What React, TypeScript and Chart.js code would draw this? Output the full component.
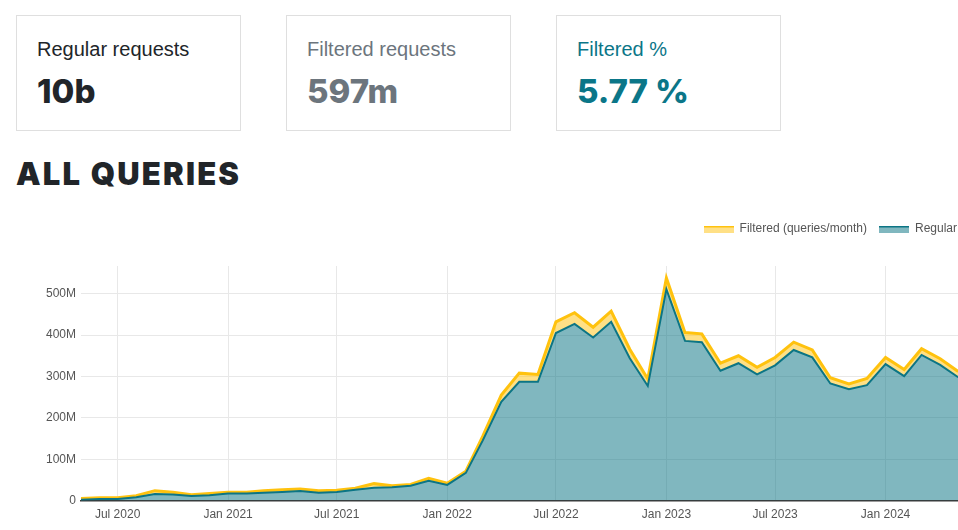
import React, { useEffect, useRef } from "react";
import { Chart, registerables } from "chart.js";

Chart.register(...registerables);

// ---- data (values in millions of queries per month) ----
const MONTHS = [
  "2020-05", "2020-06", "2020-07", "2020-08", "2020-09", "2020-10", "2020-11", "2020-12",
  "2021-01", "2021-02", "2021-03", "2021-04", "2021-05", "2021-06", "2021-07", "2021-08", "2021-09", "2021-10", "2021-11", "2021-12",
  "2022-01", "2022-02", "2022-03", "2022-04", "2022-05", "2022-06", "2022-07", "2022-08", "2022-09", "2022-10", "2022-11", "2022-12",
  "2023-01", "2023-02", "2023-03", "2023-04", "2023-05", "2023-06", "2023-07", "2023-08", "2023-09", "2023-10", "2023-11", "2023-12",
  "2024-01", "2024-02", "2024-03", "2024-04", "2024-05",
];
const REGULAR_M = [
  2, 4, 4, 8, 16, 15, 11, 13,
  17, 17, 19, 21, 23, 19, 21, 26, 31, 32, 36, 48,
  38, 67, 145, 239, 287, 287, 405, 427, 394, 432, 344, 277,
  511, 386, 383, 314, 332, 305, 327, 364, 346, 283, 269, 279,
  330, 301, 352, 328, 298,
];
const FILTERED_M = [
  3, 3, 3, 4, 8, 5, 3, 4,
  3, 3, 5, 5, 5, 5, 4, 4, 10, 4, 3, 6,
  4, 4, 10, 16, 21, 18, 27, 27, 25, 26, 22, 17,
  27, 20, 20, 18, 18, 17, 19, 19, 18, 14, 13, 16,
  16, 16, 15, 15, 14,
];
const SERIES_LABELS = ["Regular", "Filtered (queries/month)"];
const TICK_MONTHS = ["2020-07", "2021-01", "2021-07", "2022-01", "2022-07", "2023-01", "2023-07", "2024-01"];
const TICK_LABELS = ["Jul 2020", "Jan 2021", "Jul 2021", "Jan 2022", "Jul 2022", "Jan 2023", "Jul 2023", "Jan 2024"];
const Y_TICKS_M = [0, 100, 200, 300, 400, 500];
const X_MIN = "2020-05-01";
const X_MAX = "2024-05-19";
const Y_MAX_M = 567;

const CARD_LABELS = ["Regular requests", "Filtered requests", "Filtered %"];
const CARD_VALUES = ["10b", "597m", "5.77 %"];
const CARD_COLORS = ["#212529", "#6c757d", "#0b7688"];
const TITLE = "ALL QUERIES";

const TEAL = "#0c7585";
const TEAL_FILL = "rgba(12,117,133,0.52)";
const AMBER = "#ffc20e";
const AMBER_FILL = "rgba(255,194,14,0.5)";

const toMs = (s: string) => {
  const [y, m, d] = s.split("-").map(Number);
  return Date.UTC(y, m - 1, d || 1);
};

Chart.defaults.font.family = "'Liberation Sans', Arial, sans-serif";
Chart.defaults.font.size = 12;
Chart.defaults.color = "#555";

export default function App() {
  const ref = useRef<HTMLCanvasElement>(null);

  useEffect(() => {
    const canvas = ref.current;
    if (!canvas) return;

    const makeSwatch = (line: string, fill: string) => {
      const c = document.createElement("canvas");
      c.width = 30;
      c.height = 7;
      const g = c.getContext("2d")!;
      g.fillStyle = fill;
      g.fillRect(0, 0, 30, 7);
      g.fillStyle = line;
      g.fillRect(0, 0, 30, 2);
      return c;
    };
    const swatches = [makeSwatch(TEAL, TEAL_FILL), makeSwatch(AMBER, AMBER_FILL)];

    const legendSpacer = {
      id: "legendSpacer",
      beforeInit(chart: any) {
        const lg = chart.legend;
        if (!lg) return;
        const fit = lg.fit;
        lg.fit = function () {
          fit.call(lg);
          lg.height += 21;
        };
      },
    };

    const chart = new Chart(canvas, {
      type: "line",
      data: {
        datasets: [
          {
            label: SERIES_LABELS[0],
            data: MONTHS.map((m, i) => ({ x: toMs(m), y: REGULAR_M[i] * 1e6 })),
            borderColor: TEAL,
            backgroundColor: TEAL_FILL,
            borderWidth: 2,
            fill: "origin",
            pointRadius: 0,
            tension: 0,
          },
          {
            label: SERIES_LABELS[1],
            data: MONTHS.map((m, i) => ({ x: toMs(m), y: FILTERED_M[i] * 1e6 })),
            borderColor: AMBER,
            backgroundColor: AMBER_FILL,
            borderWidth: 3,
            fill: "-1",
            pointRadius: 0,
            tension: 0,
          },
        ],
      },
      options: {
        animation: false,
        responsive: true,
        maintainAspectRatio: false,
        devicePixelRatio: 1,
        layout: { padding: 0 },
        plugins: {
          filler: { drawTime: "beforeDatasetsDraw" } as any,
          tooltip: { enabled: false },
          legend: {
            position: "top",
            align: "end",
            reverse: true,
            labels: {
              usePointStyle: true,
              pointStyleWidth: 30,
              padding: 12,
              color: "#555",
              font: { size: 12 },
              generateLabels: (ch: any) =>
                (Chart.defaults.plugins.legend.labels.generateLabels as any)(ch).map((it: any) => ({
                  ...it,
                  pointStyle: swatches[it.datasetIndex],
                })),
            },
          },
        },
        scales: {
          x: {
            type: "linear",
            min: toMs(X_MIN),
            max: toMs(X_MAX),
            border: { display: true, color: "#3a3a3a", width: 1.5 },
            grid: { color: "#e8e8e8", drawTicks: false },
            ticks: {
              padding: 7,
              maxRotation: 0,
              autoSkip: false,
              color: "#555",
              callback: (v: any) => {
                const idx = TICK_MONTHS.findIndex((m) => toMs(m) === Number(v));
                return idx >= 0 ? TICK_LABELS[idx] : "";
              },
            },
            afterBuildTicks: (axis: any) => {
              axis.ticks = TICK_MONTHS.map((m) => ({ value: toMs(m) }));
            },
          },
          y: {
            stacked: true,
            min: 0,
            max: Y_MAX_M * 1e6,
            border: { display: false },
            grid: { color: "#e8e8e8", drawTicks: false },
            ticks: {
              padding: 5,
              color: "#555",
              callback: (v: any) => (Number(v) === 0 ? "0" : `${Math.round(Number(v) / 1e6)}M`),
            },
            afterBuildTicks: (axis: any) => {
              axis.ticks = Y_TICKS_M.map((v) => ({ value: v * 1e6 }));
            },
            afterFit: (axis: any) => {
              axis.width = 65;
            },
          },
        },
      } as any,
      plugins: [legendSpacer],
    });

    return () => chart.destroy();
  }, []);

  const cardLefts = [16, 286, 556];

  return (
    <div
      style={{
        position: "fixed",
        left: 0,
        top: 0,
        width: 958,
        height: 530,
        overflow: "hidden",
        background: "#fff",
      }}
    >
      {CARD_LABELS.map((lab, i) => (
        <div
          key={lab}
          style={{
            position: "absolute",
            left: cardLefts[i],
            top: 15,
            width: 225,
            height: 116,
            boxSizing: "border-box",
            border: "1px solid #dfdfdf",
            background: "#fff",
          }}
        >
          <div
            style={{
              position: "absolute",
              left: 20,
              top: 23,
              fontFamily: "'Liberation Sans', Arial, sans-serif",
              fontSize: 20,
              lineHeight: "20px",
              color: CARD_COLORS[i],
              whiteSpace: "nowrap",
            }}
          >
            {lab}
          </div>
          <div
            style={{
              position: "absolute",
              left: 20,
              top: 59,
              fontFamily: "Inter, 'DejaVu Sans', sans-serif",
              fontWeight: 800,
              fontSize: 33,
              lineHeight: "33px",
              color: CARD_COLORS[i],
              whiteSpace: "nowrap",
            }}
          >
            {CARD_VALUES[i]}
          </div>
        </div>
      ))}
      <div
        style={{
          position: "absolute",
          left: 16,
          top: 158,
          fontFamily: "Inter, 'DejaVu Sans', sans-serif",
          fontWeight: 900,
          fontSize: 31,
          lineHeight: "31px",
          letterSpacing: 2.2,
          color: "#212529",
          whiteSpace: "nowrap",
        }}
      >
        {TITLE}
      </div>
      <div style={{ position: "absolute", left: 16, top: 211, width: 953, height: 318 }}>
        <canvas ref={ref} />
      </div>
    </div>
  );
}
